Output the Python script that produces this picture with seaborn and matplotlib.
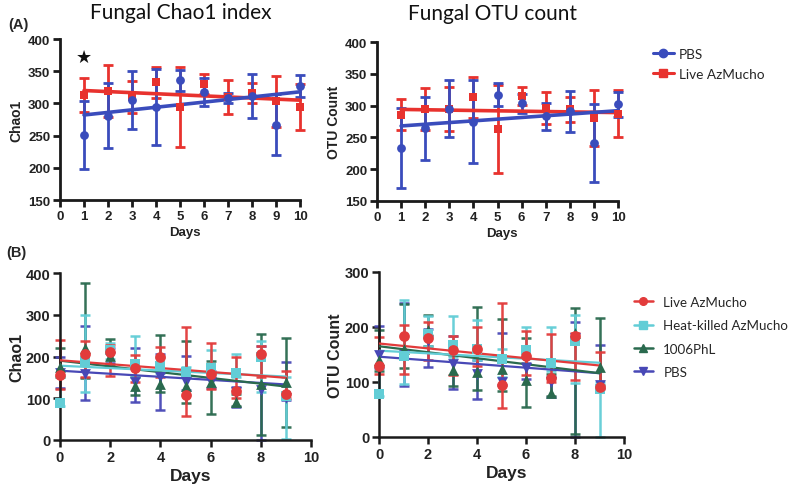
import matplotlib
matplotlib.use("Agg")
import matplotlib.pyplot as plt
import seaborn as sns
import pandas as pd
from matplotlib.lines import Line2D

# ---------------- data ----------------
days_A = [1, 2, 3, 4, 5, 6, 7, 8, 9, 10]
chao_pbs = [251, 281, 305, 294, 336, 318, 308, 312, 267, 327]
chao_pbs_err = [53, 50, 45, 59, 16, 22, 8, 34, 47, 17]
chao_live = [313, 319, 310, 333, 294, 330, 310, 316, 303, 294]
chao_live_err = [27, 40, 25, 24, 62, 16, 26, 15, 40, 36]
otu_pbs = [233, 264, 295, 275, 317, 304, 283, 291, 241, 302]
otu_pbs_err = [63, 49, 45, 66, 18, 15, 21, 32, 61, 20]
otu_live = [286, 294, 295, 313, 263, 315, 296, 294, 280, 287]
otu_live_err = [24, 33, 35, 32, 69, 14, 25, 20, 44, 37]
trend_days_A = [1, 10]
chao_trend_pbs = [282, 318]
chao_trend_live = [320, 305]
otu_trend_pbs = [268, 292]
otu_trend_live = [294, 289]

days_B = [0, 1, 2, 3, 4, 5, 6, 7, 8, 9]
groups_B = ["Live AzMucho", "Heat-killed AzMucho", "1006PhL", "PBS"]
# Chao1 (B): value, lower end, upper end of bars
chaoB_live = [155, 205, 210, 172, 200, 108, 157, 118, 207, 110]
chaoB_live_lo = [122, 150, 153, 140, 150, 58, 122, 100, 150, 100]
chaoB_live_hi = [240, 238, 228, 204, 222, 271, 232, 198, 225, 166]
chaoB_heat = [88, 190, 215, 182, 178, 164, 172, 160, 198, 105]
chaoB_heat_lo = [82, 114, 195, 150, 160, 150, 150, 150, 116, 2]
chaoB_heat_hi = [150, 300, 232, 248, 200, 175, 216, 207, 238, 150]
chaoB_phl = [175, 220, 202, 130, 133, 130, 140, 90, 135, 138]
chaoB_phl_lo = [150, 148, 180, 108, 116, 89, 62, 82, 12, 30]
chaoB_phl_hi = [220, 376, 242, 150, 252, 238, 190, 110, 254, 244]
chaoB_pbs = [160, 158, 200, 138, 150, 140, 140, 115, 120, 100]
chaoB_pbs_lo = [125, 97, 185, 90, 73, 120, 125, 78, 0, 95]
chaoB_pbs_hi = [200, 274, 220, 220, 205, 202, 165, 126, 224, 186]
# OTU count (B)
otuB_live = [130, 183, 180, 158, 160, 95, 147, 107, 184, 91]
otuB_live_lo = [115, 115, 140, 113, 130, 53, 112, 100, 103, 88]
otuB_live_hi = [182, 204, 210, 183, 200, 244, 193, 187, 190, 155]
otuB_heat = [78, 148, 188, 168, 160, 142, 159, 135, 175, 87]
otuB_heat_lo = [75, 96, 165, 145, 140, 110, 145, 120, 99, 0]
otuB_heat_hi = [130, 250, 220, 220, 213, 160, 200, 200, 222, 100]
otuB_phl = [140, 160, 195, 122, 118, 124, 103, 80, 190, 128]
otuB_phl_lo = [120, 125, 165, 92, 86, 84, 55, 75, 5, 95]
otuB_phl_hi = [195, 242, 222, 150, 237, 215, 180, 115, 235, 216]
otuB_pbs = [150, 150, 175, 133, 115, 100, 125, 100, 180, 95]
otuB_pbs_lo = [125, 92, 128, 87, 69, 95, 105, 72, 0, 90]
otuB_pbs_hi = [202, 244, 197, 183, 140, 190, 135, 110, 210, 167]
trend_days_B = [0, 9]
chaoB_trend = {"Live AzMucho": [191, 149], "Heat-killed AzMucho": [178, 152],
               "1006PhL": [190, 128], "PBS": [166, 133]}
otuB_trend = {"Live AzMucho": [170, 130], "Heat-killed AzMucho": [157, 135],
              "1006PhL": [165, 116], "PBS": [146, 116]}

# ---------------- style ----------------
sns.set_style("ticks")
plt.rcParams["font.family"] = ["Liberation Sans", "DejaVu Sans"]

RED_A = "#e8322e"
BLUE_A = "#3a4cbc"
colB = {"Live AzMucho": "#e23b3b", "Heat-killed AzMucho": "#62cdd6",
        "1006PhL": "#2a6a4e", "PBS": "#4848b6"}
mkB = {"Live AzMucho": "o", "Heat-killed AzMucho": "s", "1006PhL": "^", "PBS": "v"}

fig = plt.figure(figsize=(8, 4.85), dpi=100)
W, H = 800.0, 485.0


def add_axes(x0, x10, ytop, ybot, xmax=10.4):
    px_per = (x10 - x0) / 10.0
    return fig.add_axes([x0 / W, 1 - ybot / H, xmax * px_per / W, (ybot - ytop) / H])


def style_axes(ax, xlim, ylim, xticks, yticks, lw, fs, ylabel, xlabel_fs, ylabel_fs, ylpad):
    ax.set_xlim(0, xlim + 0.4)
    ax.set_ylim(*ylim)
    ax.spines["bottom"].set_bounds(0, xlim)
    sns.despine(ax=ax)
    for s in ("left", "bottom"):
        ax.spines[s].set_linewidth(lw)
        ax.spines[s].set_color("#1a1a1a")
    ax.set_xticks(xticks)
    ax.set_yticks(yticks)
    ax.tick_params(width=lw, length=5, color="#1a1a1a", labelsize=fs, pad=2)
    for t in ax.get_xticklabels() + ax.get_yticklabels():
        t.set_fontweight("bold")
        t.set_color("#222222")
    ax.set_xlabel("Days", fontsize=xlabel_fs, fontweight="bold", color="#222222", labelpad=3)
    ax.set_ylabel(ylabel, fontsize=ylabel_fs, fontweight="bold", color="#222222", labelpad=ylpad)


def draw_A(ax, pbs, pbs_err, live, live_err, tr_pbs, tr_live):
    for vals, err, tr, c, m, ms in ((live, live_err, tr_live, RED_A, "s", 34),
                                    (pbs, pbs_err, tr_pbs, BLUE_A, "o", 40)):
        eb = ax.errorbar(days_A, vals, yerr=err, fmt="none", ecolor=c, elinewidth=2,
                         capsize=3.8, capthick=2, zorder=2)
        for art in eb.lines[1] + eb.lines[2]:
            art.set_clip_on(False)
        sns.lineplot(x=trend_days_A, y=tr, ax=ax, color=c, lw=2.6, legend=False, zorder=3)
        sns.scatterplot(x=days_A, y=vals, ax=ax, color=c, marker=m, s=ms, linewidth=0,
                        zorder=4, clip_on=False, legend=False)


def draw_B(ax, data, trends):
    for g in ["PBS", "1006PhL", "Heat-killed AzMucho", "Live AzMucho"]:
        vals, lo, hi = data[g]
        c = colB[g]
        yerr = [[v - l for v, l in zip(vals, lo)], [h - v for v, h in zip(vals, hi)]]
        eb = ax.errorbar(days_B, vals, yerr=yerr, fmt="none", ecolor=c, elinewidth=1.8,
                         capsize=3.8, capthick=1.8, zorder=2, alpha=0.95)
        for art in eb.lines[1] + eb.lines[2]:
            art.set_clip_on(False)
        sns.lineplot(x=trend_days_B, y=trends[g], ax=ax, color=c, lw=1.6, legend=False, zorder=3)
        sns.scatterplot(x=days_B, y=vals, ax=ax, color=c, marker=mkB[g], s=60, linewidth=0,
                        zorder=4, clip_on=False, legend=False)


# ---------------- panel A ----------------
ax1 = add_axes(60, 300, 40, 201)
draw_A(ax1, chao_pbs, chao_pbs_err, chao_live, chao_live_err, chao_trend_pbs, chao_trend_live)
style_axes(ax1, 10, (150, 400), range(0, 11), range(150, 401, 50), 2.0, 9.5, "Chao1", 9.5, 10, 3)
ax1.text(1, 372, "\u2605", ha="center", va="center", fontsize=13, color="#111111",
         family=["DejaVu Sans"])

ax2 = add_axes(377, 618, 43, 202)
draw_A(ax2, otu_pbs, otu_pbs_err, otu_live, otu_live_err, otu_trend_pbs, otu_trend_live)
style_axes(ax2, 10, (150, 400), range(0, 11), range(150, 401, 50), 2.0, 9.5, "OTU Count", 9.5, 10, 3)

# ---------------- panel B ----------------
chao_B = {"Live AzMucho": (chaoB_live, chaoB_live_lo, chaoB_live_hi),
          "Heat-killed AzMucho": (chaoB_heat, chaoB_heat_lo, chaoB_heat_hi),
          "1006PhL": (chaoB_phl, chaoB_phl_lo, chaoB_phl_hi),
          "PBS": (chaoB_pbs, chaoB_pbs_lo, chaoB_pbs_hi)}
otu_B = {"Live AzMucho": (otuB_live, otuB_live_lo, otuB_live_hi),
         "Heat-killed AzMucho": (otuB_heat, otuB_heat_lo, otuB_heat_hi),
         "1006PhL": (otuB_phl, otuB_phl_lo, otuB_phl_hi),
         "PBS": (otuB_pbs, otuB_pbs_lo, otuB_pbs_hi)}

ax3 = add_axes(60, 311, 274, 441)
draw_B(ax3, chao_B, chaoB_trend)
style_axes(ax3, 10, (0, 400), range(0, 11, 2), range(0, 401, 100), 1.8, 10.5, "Chao1", 12.5, 11.5, 1)

ax4 = add_axes(379, 624, 273, 438)
draw_B(ax4, otu_B, otuB_trend)
style_axes(ax4, 10, (0, 300), range(0, 11, 2), range(0, 301, 100), 1.8, 10.5, "OTU Count", 12.5, 11.5, 1)

# ---------------- titles & labels ----------------
fig.text(181 / W, 1 - 13 / H, "Fungal Chao1 index", ha="center", va="center",
         fontsize=15, family=["Lato", "DejaVu Sans"], color="#111111")
fig.text(493 / W, 1 - 14 / H, "Fungal OTU count", ha="center", va="center",
         fontsize=15, family=["Lato", "DejaVu Sans"], color="#111111")
fig.text(8 / W, 1 - 25 / H, "(A)", ha="left", va="center", fontsize=10.5, fontweight="bold")
fig.text(6 / W, 1 - 253 / H, "(B)", ha="left", va="center", fontsize=10.5, fontweight="bold")

# ---------------- legends ----------------
hA = [Line2D([], [], color=BLUE_A, marker="o", ms=6, lw=2.2),
      Line2D([], [], color=RED_A, marker="s", ms=5.5, lw=2.2)]
legA = fig.legend(hA, ["PBS", "Live AzMucho"], loc="center left",
                  bbox_to_anchor=(641 / W, 1 - 65 / H), frameon=False,
                  prop={"family": ["Lato", "DejaVu Sans"], "size": 9.8},
                  handlelength=1.5, handletextpad=0.4, labelspacing=0.55)

hB = [Line2D([], [], color=colB[g], marker=mkB[g], ms=5.5, lw=1.8) for g in groups_B]
legB = fig.legend(hB, groups_B, loc="center left",
                  bbox_to_anchor=(622 / W, 1 - 338 / H), frameon=False,
                  prop={"family": ["Lato", "DejaVu Sans"], "size": 9.6},
                  handlelength=1.4, handletextpad=0.8, labelspacing=0.85)

fig.savefig("out.png", dpi=100)
